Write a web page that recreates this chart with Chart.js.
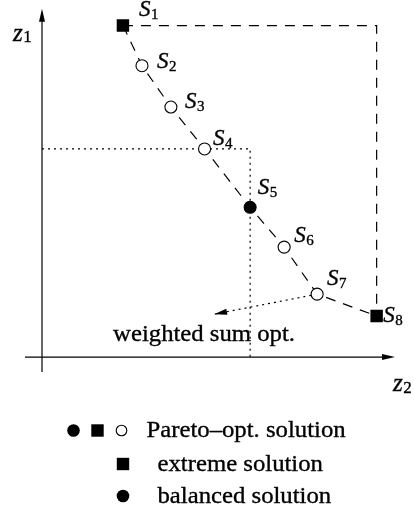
<!DOCTYPE html>
<html><head><meta charset="utf-8">
<script src="https://cdn.jsdelivr.net/npm/chart.js@4/dist/chart.umd.min.js"></script>
<style>html,body{margin:0;padding:0;background:#fff;}#wrap{width:414px;height:515px;position:relative}</style>
</head><body><div id="wrap"><canvas id="c" width="414" height="515"></canvas></div>
<script>
// ---- data (objective space: z2 horizontal, z1 vertical) ----
const SOLUTION_NAMES = ['S1','S2','S3','S4','S5','S6','S7','S8'];
const Z2_VALUES = [2.38, 2.94, 3.79, 4.78, 6.12, 7.12, 8.09, 9.84];
const Z1_VALUES = [11.07, 9.73, 8.35, 6.95, 5.00, 3.67, 2.10, 1.37];
const SOLUTION_KIND = ['extreme','pareto','pareto','pareto','balanced','pareto','pareto','extreme'];
const WEIGHTED_SUM_TARGET = [5.06, 1.43];   // arrow from S7 toward this point
const WEIGHTED_SUM_TEXT = 'weighted sum opt.';
const AXIS_NAMES = [['z','2'], ['z','1']];
const LEGEND_ROWS = [
  {symbols:['balanced','extreme','pareto'], text:'Pareto\u2013opt. solution'},
  {symbols:['extreme'], text:'extreme solution'},
  {symbols:['balanced'], text:'balanced solution'}
];

// ---- layout / style (not data) ----
const LABEL_OFFSETS = [[16,-10],[15,2],[14,0.5],[8.5,-3.5],[7.5,-13],[10,-5],[10,-9],[6.5,6]];
const SERIF = '"Liberation Serif","Times New Roman",serif';
const BODY_PX = 24, S_PX = 23, SUB_PX = 15, Z_PX = 25;
const TEXT_SX = 1.03;
const DASH = [10, 8], DOT = [2, 4];

const radiusOf = k => k === 'extreme' ? 8.8 : 6;
const styleOf = k => k === 'extreme' ? 'rect' : 'circle';
const fillOf = k => k === 'pareto' ? '#ffffff' : '#000000';

const frontPts = Z2_VALUES.map((v, i) => ({x: v, y: Z1_VALUES[i]}));
const guidePts = [{x: 0, y: Z1_VALUES[3]}, {x: Z2_VALUES[4], y: Z1_VALUES[3]}, {x: Z2_VALUES[4], y: 0}];
const boxPts = [frontPts[0], {x: Z2_VALUES[7], y: Z1_VALUES[0]}, frontPts[7]];
const wsPts = [frontPts[6], {x: WEIGHTED_SUM_TARGET[0], y: WEIGHTED_SUM_TARGET[1]}];

function arrowHead(ctx, x1, y1, x2, y2, len, half) {
  const a = Math.atan2(y2 - y1, x2 - x1);
  ctx.beginPath();
  ctx.moveTo(x2, y2);
  ctx.lineTo(x2 - len * Math.cos(a) + half * Math.sin(a), y2 - len * Math.sin(a) - half * Math.cos(a));
  ctx.lineTo(x2 - len * Math.cos(a) - half * Math.sin(a), y2 - len * Math.sin(a) + half * Math.cos(a));
  ctx.closePath();
  ctx.fill();
}
function stretchText(ctx, txt, x, y, font, sx) {
  ctx.save();
  ctx.font = font;
  ctx.translate(x, y);
  ctx.scale(sx, 1);
  ctx.fillText(txt, 0, 0);
  ctx.lineWidth = 0.35; ctx.strokeStyle = '#000';
  ctx.strokeText(txt, 0, 0);
  const w = ctx.measureText(txt).width * sx;
  ctx.restore();
  return w;
}
function mathLabel(ctx, main, sub, x, y, mainPx, subPx, drop) {
  const w = stretchText(ctx, main, x, y, 'italic ' + mainPx + 'px ' + SERIF, 1);
  stretchText(ctx, sub, x + w + 0.5, y + drop, subPx + 'px ' + SERIF, 1);
}
function symbol(ctx, kind, cx, cy) {
  ctx.save();
  ctx.fillStyle = fillOf(kind);
  ctx.strokeStyle = '#000';
  ctx.lineWidth = 1.1;
  if (kind === 'extreme') {
    ctx.fillRect(cx - 6.2, cy - 6.2, 12.4, 12.4);
  } else if (kind === 'balanced') {
    ctx.beginPath(); ctx.arc(cx, cy, 6.3, 0, Math.PI * 2); ctx.fill();
  } else {
    ctx.beginPath(); ctx.arc(cx, cy, 5.3, 0, Math.PI * 2); ctx.fill(); ctx.stroke();
  }
  ctx.restore();
}

const annotations = {
  id: 'annotations',
  beforeDatasetsDraw(chart) {
    const {ctx, chartArea: a, scales: {x, y}} = chart;
    const x0 = x.getPixelForValue(0), y0 = y.getPixelForValue(0);
    ctx.save();
    ctx.strokeStyle = '#000'; ctx.fillStyle = '#000'; ctx.lineWidth = 1.2;
    ctx.beginPath(); ctx.moveTo(x0, a.bottom); ctx.lineTo(x0, a.top + 10); ctx.stroke();
    arrowHead(ctx, x0, a.bottom, x0, a.top, 13, 3);
    ctx.beginPath(); ctx.moveTo(a.left, y0); ctx.lineTo(a.right - 10, y0); ctx.stroke();
    arrowHead(ctx, a.left, y0, a.right, y0, 13, 3);
    ctx.restore();
  },
  afterDatasetsDraw(chart) {
    const {ctx, chartArea: a, scales: {x, y}} = chart;
    const x0 = x.getPixelForValue(0), y0 = y.getPixelForValue(0);
    ctx.save();
    ctx.fillStyle = '#000';
    ctx.textBaseline = 'alphabetic';
    const sx = x.getPixelForValue(wsPts[0].x), sy = y.getPixelForValue(wsPts[0].y);
    const tx = x.getPixelForValue(wsPts[1].x), ty = y.getPixelForValue(wsPts[1].y);
    arrowHead(ctx, sx, sy, tx, ty, 13, 3);
    SOLUTION_NAMES.forEach((n, i) => {
      const px = x.getPixelForValue(Z2_VALUES[i]) + LABEL_OFFSETS[i][0];
      const py = y.getPixelForValue(Z1_VALUES[i]) + LABEL_OFFSETS[i][1];
      mathLabel(ctx, n[0], n.slice(1), px, py, S_PX, SUB_PX, 3);
    });
    mathLabel(ctx, AXIS_NAMES[1][0], AXIS_NAMES[1][1], x0 - 29, a.top + 32, Z_PX, SUB_PX + 2, 1.5);
    mathLabel(ctx, AXIS_NAMES[0][0], AXIS_NAMES[0][1], a.right - 2, y0 + 34, Z_PX, SUB_PX + 2, 1.5);
    stretchText(ctx, WEIGHTED_SUM_TEXT, tx - 101, ty + 26.5, BODY_PX + 'px ' + SERIF, TEXT_SX);
    const rowY = [a.bottom + 58.5, a.bottom + 92, a.bottom + 124];
    LEGEND_ROWS.forEach((row, r) => {
      const cy = rowY[r];
      if (row.symbols.length === 3) {
        row.symbols.forEach((k, j) => symbol(ctx, k, 73.5 + j * 24, cy));
        stretchText(ctx, row.text, 146.5, cy + 6, BODY_PX + 'px ' + SERIF, TEXT_SX);
      } else {
        symbol(ctx, row.symbols[0], 123, cy);
        stretchText(ctx, row.text, 157.5, cy + 6.5, BODY_PX + 'px ' + SERIF, TEXT_SX);
      }
    });
    ctx.restore();
  }
};

new Chart(document.getElementById('c'), {
  type: 'scatter',
  data: {
    datasets: [
      { label: 'Pareto front', data: frontPts, showLine: true, borderColor: '#000', borderWidth: 1.2,
        borderDash: DASH, pointStyle: SOLUTION_KIND.map(styleOf), pointRadius: SOLUTION_KIND.map(radiusOf),
        pointBackgroundColor: SOLUTION_KIND.map(fillOf), pointBorderColor: '#000',
        pointBorderWidth: SOLUTION_KIND.map(k => k === 'extreme' ? 0 : 1.1), tension: 0 },
      { label: 'box', data: boxPts, showLine: true, borderColor: '#000', borderWidth: 1.2, borderDash: DASH, pointRadius: 0 },
      { label: 'guide', data: guidePts, showLine: true, borderColor: '#000', borderWidth: 1.2, borderDash: DOT, pointRadius: 0 },
      { label: 'weighted', data: wsPts, showLine: true, borderColor: '#000', borderWidth: 1.2, borderDash: DOT, pointRadius: 0 }
    ]
  },
  options: {
    responsive: false, animation: false, events: [],
    layout: { padding: { left: 25, right: 19, top: 8, bottom: 143 } },
    scales: {
      x: { type: 'linear', min: -0.5, max: 10.38, display: false },
      y: { type: 'linear', min: -0.5, max: 11.63, display: false }
    },
    plugins: { legend: { display: false }, tooltip: { enabled: false } }
  },
  plugins: [annotations]
});
</script></body></html>
